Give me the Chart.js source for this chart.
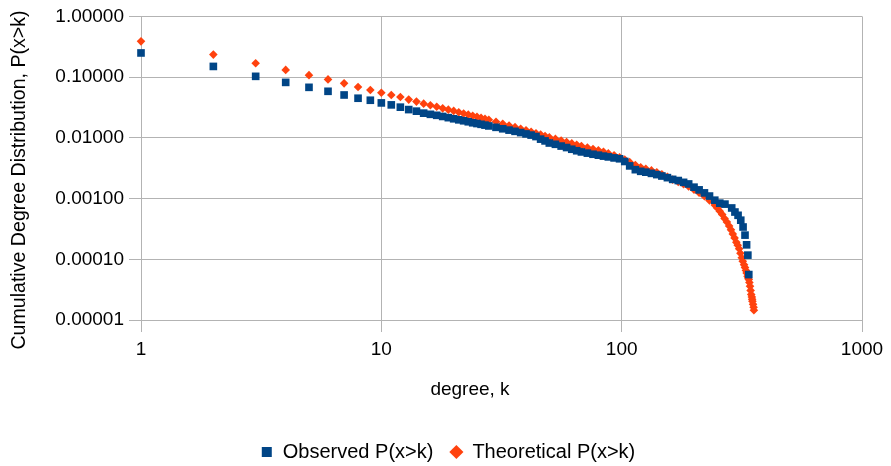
<!DOCTYPE html>
<html>
<head>
<meta charset="utf-8">
<script src="https://cdn.jsdelivr.net/npm/chart.js@4"></script>
<style>
  html, body { margin: 0; padding: 0; background: #fff; overflow: hidden; }
  #wrap { width: 891px; height: 466px; overflow: hidden; }
  canvas { display: block; }
</style>
</head>
<body>
<div id="wrap"><canvas id="c" width="891" height="472"></canvas></div>
<script>
// ---- data ----
const kObs = [1,2,3,4,5,6,7,8,9,10,11,12,13,14,15,16,17,18,19,20,21,22,23,24,25,26,27,28,
  30,32,34,36,38,40,42,44,46,48,50,53,56,59,62,65,68,72,76,80,84,88,93,98,103,108,114,120,
  126,133,140,147,155,163,172,181,190,200,210,221,232,244,256,269,287,296,305,313,320,326,331,335,338];
const observedP = [0.250,0.150,0.103,0.0819,0.0679,0.0584,0.0508,0.0449,0.0416,0.0376,0.0349,0.0320,0.0292,0.0275,0.0255,
  0.0244,0.0235,0.0225,0.0215,0.0206,0.0198,0.0191,0.0184,0.0177,0.0172,0.0167,0.0162,0.0157,
  0.0149,0.0141,0.0134,0.0128,0.0122,0.0116,0.0111,0.0105,0.00952,0.00890,0.00822,0.00783,0.00732,0.00692,0.00649,0.00613,0.00586,
  0.00560,0.00537,0.00518,0.00500,0.00485,0.00467,0.00452,0.00408,0.00345,0.00299,0.00281,
  0.00272,0.00260,0.00248,0.00235,0.00221,0.00207,0.00198,0.00185,0.00174,0.00154,0.00139,0.00124,0.00110,0.00094,0.00084,
  0.00081,0.00070,0.00060,0.00053,0.00044,0.00034,0.00025,0.000173,0.000117,0.000056];

const kTheo = [1,2,3,4,5,6,7,8,9,10,11,12,13,14,15,16,17,18,19,20,21,22,23,24,25,26,27,28,
  30,32,34,36,38,40,42,44,46,48,50,53,56,59,62,65,68,72,76,80,84,88,93,98,103,108,114,120,
  126,133,140,147,155,163,172,181,190,200,210,221,232,244,250,256,262,268,274,280,285,290,295,300,
  304,308,312,316,319,323,326,329,331,334,336,338,340,342,344,346,348,349,350,352,354,355];
const theoreticalP = [0.388,0.235,0.169,0.1316,0.1078,0.0917,0.0789,0.0687,0.0613,0.0554,0.0508,0.0471,0.0426,0.0395,0.0366,
  0.0345,0.0326,0.0306,0.0291,0.0278,0.0264,0.0251,0.0241,0.0231,0.0222,0.0213,0.0205,0.0198,
  0.0184,0.0171,0.0160,0.0150,0.0141,0.0133,0.0126,0.0119,0.0113,0.0107,0.0102,0.0096,0.00904,0.00853,0.00810,0.00769,0.00732,
  0.00692,0.00656,0.00625,0.00591,0.00554,0.00515,0.00480,0.00437,0.00398,0.00358,0.00328,
  0.00310,0.00291,0.00270,0.00251,0.00228,0.00205,0.00187,0.00172,0.00158,0.00140,0.00125,0.00109,0.00093,0.00078,
  0.000702,0.00062,0.000546,0.00047,0.000412,0.000354,0.000305,0.000262,0.000225,0.000190,
  0.000170,0.000149,0.000126,0.000106,0.0000931,0.0000816,0.0000729,0.0000652,0.0000593,0.0000526,0.0000491,0.0000465,
  0.0000415,0.0000361,0.0000307,0.0000264,0.0000240,0.0000219,0.0000203,0.0000181,0.0000162,0.0000145];

const xTickValues = [1, 10, 100, 1000];
const xTickLabels = ['1', '10', '100', '1000'];
const yTickValues = [0.00001, 0.0001, 0.001, 0.01, 0.1, 1];
const yTickLabels = ['0.00001', '0.00010', '0.00100', '0.01000', '0.10000', '1.00000'];

const seriesNames = ['Observed P(x>k)', 'Theoretical P(x>k)'];
const xTitle = 'degree, k';
const yTitle = 'Cumulative Degree Distribution, P(x>k)';

// ---- chart ----
const FONT = '"Liberation Sans", Arial, sans-serif';
Chart.defaults.font.family = FONT;
Chart.defaults.font.size = 19;
Chart.defaults.color = '#000';

const titlePlugin = {
  id: 'axisTitles',
  afterDraw(chart) {
    const ctx = chart.ctx;
    ctx.save();
    ctx.fillStyle = '#000';
    ctx.textAlign = 'center';
    ctx.textBaseline = 'middle';
    ctx.font = '19px ' + FONT;
    ctx.fillText(xTitle, 470, 390);
    ctx.font = '19.6px ' + FONT;
    ctx.translate(20, 180);
    ctx.rotate(-Math.PI / 2);
    ctx.fillText(yTitle, 0, 0);
    ctx.restore();
  }
};

new Chart(document.getElementById('c'), {
  type: 'scatter',
  data: {
    datasets: [
      {
        label: seriesNames[0],
        data: kObs.map((k, i) => ({ x: k, y: observedP[i] })),
        pointStyle: 'rect',
        pointRadius: 5.4,
        pointBorderWidth: 0,
        backgroundColor: '#004586',
        borderColor: '#004586',
        clip: false
      },
      {
        label: seriesNames[1],
        data: kTheo.map((k, i) => ({ x: k, y: theoreticalP[i] })),
        pointStyle: 'rectRot',
        pointRadius: 4.3,
        pointBorderWidth: 0,
        backgroundColor: '#ff420e',
        borderColor: '#ff420e',
        clip: false
      }
    ]
  },
  options: {
    responsive: false,
    animation: false,
    devicePixelRatio: 1,
    layout: { padding: { left: 34, right: 29, top: 15, bottom: 0 } },
    plugins: {
      legend: {
        position: 'bottom',
        labels: {
          usePointStyle: true,
          boxHeight: 10,
          boxWidth: 12,
          padding: 17,
          font: { size: 20 },
          color: '#000'
        }
      },
      tooltip: { enabled: false }
    },
    scales: {
      x: {
        type: 'logarithmic',
        min: 1, max: 1000,
        afterBuildTicks(scale) { scale.ticks = xTickValues.map(v => ({ value: v })); },
        afterFit(scale) { scale.height = 105; },
        ticks: {
          autoSkip: false, maxRotation: 0, padding: 6,
          callback: (v) => { const i = xTickValues.indexOf(v); return i >= 0 ? xTickLabels[i] : ''; }
        },
        grid: { color: '#b3b3b3', lineWidth: 1, tickLength: 12 },
        border: { color: '#b3b3b3' }
      },
      y: {
        type: 'logarithmic',
        min: 0.00001, max: 1,
        afterBuildTicks(scale) { scale.ticks = yTickValues.map(v => ({ value: v })); },
        afterFit(scale) { scale.width = 107; },
        ticks: {
          autoSkip: false, padding: 5,
          callback: (v) => {
            const i = yTickValues.findIndex(t => Math.abs(Math.log10(t) - Math.log10(v)) < 1e-6);
            return i >= 0 ? yTickLabels[i] : '';
          }
        },
        grid: { color: '#b3b3b3', lineWidth: 1, tickLength: 12 },
        border: { color: '#b3b3b3' }
      }
    }
  },
  plugins: [titlePlugin]
});
</script>
</body>
</html>
